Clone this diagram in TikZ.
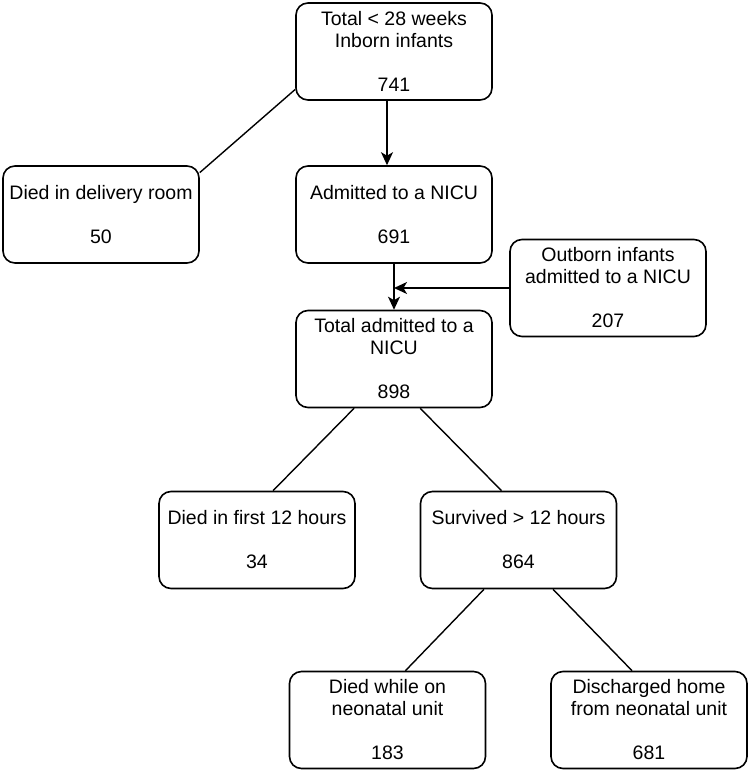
\documentclass[tikz,border=0pt]{standalone}
\usepackage{fontspec}
\setmainfont{Liberation Sans}
\usetikzlibrary{arrows.meta}
\begin{document}
\begin{tikzpicture}[x=1pt,y=-1pt,
  box/.style={draw,line width=1.6pt,rounded corners=12pt,minimum width=196pt,minimum height=97pt,inner sep=0pt,align=center,font=\fontsize{19.5}{22}\selectfont},
  link/.style={line width=1.4pt},
  arr/.style={link,-{Stealth[length=13pt,width=12pt,inset=3.5pt]}}]
\useasboundingbox (0,0) rectangle (749,772);
\node [box] (total) at (394,51.5) {Total < 28 weeks\\Inborn infants\\[22pt]741};
\node [box] (delivery) at (101,214.5) {Died in delivery room\\[22pt]50};
\node [box] (admitted) at (394,214.5) {Admitted to a NICU\\[22pt]691};
\node [box] (outborn) at (608,288) {Outborn infants\\admitted to a NICU\\[22pt]207};
\node [box] (totaladm) at (394,359) {Total admitted to a\\NICU\\[22pt]898};
\node [box] (first12) at (257,540) {Died in first 12 hours\\[22pt]34};
\node [box] (survived) at (518.5,540) {Survived > 12 hours\\[22pt]864};
\node [box] (diedunit) at (387.5,720) {Died while on\\neonatal unit\\[22pt]183};
\node [box] (home) at (649,720) {Discharged home\\from neonatal unit\\[22pt]681};
\draw [arr] ([xshift=-7pt]total.south) -- ([xshift=-7pt]admitted.north);
\draw [link] (total.201) -- (delivery.23);
\draw [arr] (admitted.south) -- (totaladm.north);
\draw [arr] (outborn.west) -- (outborn.west -| admitted.south);
\draw [link] (totaladm.231) -- (first12.72);
\draw [link] (totaladm.298) -- (survived.109);
\draw [link] (survived.235) -- (diedunit.70);
\draw [link] (survived.305) -- (home.109.5);
\end{tikzpicture}
\end{document}
